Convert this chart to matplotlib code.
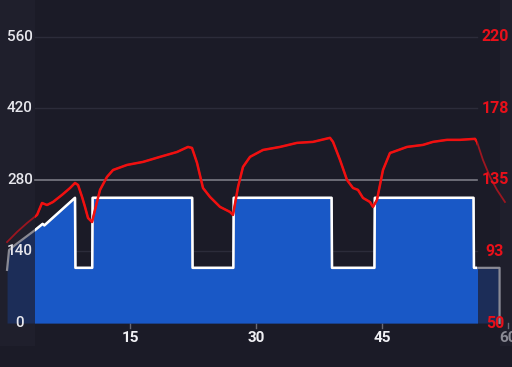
import matplotlib
matplotlib.use("Agg")
import matplotlib.pyplot as plt
from matplotlib.patches import Rectangle

# ---------------- data ----------------
power_t = [0.36, 0.6, 1.5, 3.7, 4.3, 4.6, 4.8, 8.45, 8.5, 10.5, 10.55, 22.4, 22.45,
           27.3, 27.35, 39.0, 39.05, 44.1, 44.15, 55.9, 55.95, 59.0, 59.0]
power_w = [104, 143, 155, 182, 190, 194, 191, 245, 108, 108, 245, 245, 108,
           108, 245, 245, 108, 108, 245, 245, 108, 108, 0]

hr_t = [0.36, 1.55, 2.74, 3.93, 4.52, 5.12, 5.83, 6.90, 7.86, 8.45, 8.81, 9.29, 9.64,
        10.0, 10.48, 10.83, 11.43, 12.26, 12.98, 14.64, 16.55, 18.57, 20.6, 21.9,
        22.38, 22.98, 23.69, 24.52, 25.71, 26.9, 27.26, 27.86, 28.45, 29.29, 30.83,
        32.86, 34.88, 36.79, 38.81, 39.17, 40.0, 40.83, 41.55, 42.14, 42.74, 43.57,
        43.93, 44.40, 45.12, 45.95, 46.31, 47.98, 49.88, 51.07, 52.74, 54.29, 56.07,
        56.31, 57.02, 57.86, 58.69, 59.64]
hr_bpm = [98.1, 104.1, 109.4, 114.2, 121.3, 120.1, 121.9, 126.1, 130.2, 133.2, 132.0,
          124.9, 119.0, 112.4, 110.0, 117.2, 129.1, 136.8, 140.9, 143.9, 145.7, 148.7,
          151.6, 154.6, 154.0, 145.1, 130.2, 124.9, 119.0, 116.0, 114.2, 130.8, 142.7,
          148.7, 152.8, 154.6, 157.0, 157.6, 160.0, 157.6, 146.9, 135.0, 130.2, 129.1,
          124.3, 121.9, 119.0, 123.1, 140.9, 151.0, 151.6, 154.6, 155.8, 157.6, 158.8,
          158.8, 159.4, 157.6, 146.9, 136.8, 129.1, 121.9]

power_ticks = [0, 140, 280, 420, 560]
hr_ticks = [50, 92.5, 135, 177.5, 220]
hr_tick_labels = ["50", "93", "135", "178", "220"]
x_ticks = [15, 30, 45, 60]
threshold_w = 280
selection = (3.7, 56.3)

# ---------------- style ----------------
BG = "#1b1b27"
BAND = "#1f1f2c"
BLUE = "#1958c6"
DIM_BLUE = "#1c2d58"
RED = "#f01010"
DIM_RED = "#9c1620"

P_MIN, P_MAX = -86, 632
HR_MIN, HR_MAX = 50, 220


def hr_to_p(v):
    return (v - HR_MIN) / (HR_MAX - HR_MIN) * 560.0


fig = plt.figure(figsize=(5.12, 3.67), dpi=100, facecolor=BG)
ax = fig.add_axes([0, 0, 1, 1])
ax.set_facecolor(BG)
ax.set_xlim(-0.48, 60.48)
ax.set_ylim(P_MIN, P_MAX)
ax.axis("off")

s0, s1 = selection
# dimmed bands outside selection
ax.add_patch(Rectangle((-0.48, -45), s0 + 0.48, P_MAX + 45, facecolor=BAND,
                       edgecolor="none", zorder=0))
ax.add_patch(Rectangle((59.0, -45), 1.5, P_MAX + 45, facecolor=BAND,
                       edgecolor="none", zorder=0))

# gridlines
for v in power_ticks[1:]:
    if v == threshold_w:
        continue
    ax.plot([s0, s1], [v, v], color="#2c2c3a", lw=1, zorder=1)
ax.plot([s0, s1], [threshold_w, threshold_w], color="#7a7a84", lw=1.2, zorder=4)

# power: dimmed full series
ax.fill_between(power_t, power_w, 0, color=DIM_BLUE, lw=0, zorder=2)
ax.plot(power_t, power_w, color="#8a8a94", lw=1.6, zorder=3)

clip = Rectangle((s0, P_MIN), s1 - s0, P_MAX - P_MIN, transform=ax.transData)
f = ax.fill_between(power_t, power_w, 0, color=BLUE, lw=0, zorder=2.5)
f.set_clip_path(clip)
ln, = ax.plot(power_t, power_w, color="white", lw=1.8, zorder=3.5)
ln.set_clip_path(clip)

# heart rate
hr_p = [hr_to_p(v) for v in hr_bpm]
ax.plot(hr_t, hr_p, color=DIM_RED, lw=1.3, zorder=5)
rl, = ax.plot(hr_t, hr_p, color=RED, lw=1.8, zorder=5.5)
rl.set_clip_path(clip)

# left axis labels
font = "Roboto"
for v in power_ticks:
    ax.text(1.9, v, str(v), color="#e6e6ec", fontsize=11, family=font,
            fontweight="medium", ha="center", va="center", zorder=6)
# right axis labels
for v, lab in zip(hr_ticks, hr_tick_labels):
    ax.text(58.45, hr_to_p(v), lab, color="#e8101a", fontsize=11.5, family=font,
            fontweight="bold", ha="center", va="center", zorder=6)
# x ticks
label_clip = Rectangle((-0.48, P_MIN), 59.9, P_MAX - P_MIN, transform=ax.transData)
for t in x_ticks:
    col = "#f0f0f4" if s0 <= t <= s1 else "#8a8a94"
    ax.plot([t, t], [0, -9], color="#6a6a74", lw=1, zorder=1)
    tx = ax.text(t, -30, str(t), color=col, fontsize=11, family=font,
                 fontweight="bold", ha="center", va="center", zorder=6)
    tx.set_clip_path(label_clip)

fig.savefig("out.png", dpi=100, facecolor=BG)
